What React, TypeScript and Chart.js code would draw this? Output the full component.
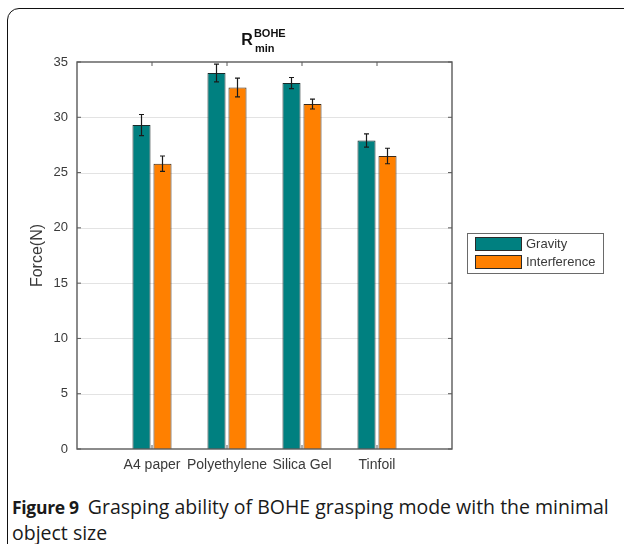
import React, { useEffect, useRef } from "react";
import { Chart, registerables } from "chart.js";

Chart.register(...registerables);

const categories = ["A4 paper", "Polyethylene", "Silica Gel", "Tinfoil"];
const seriesNames = ["Gravity", "Interference"];
const gravity = [29.3, 34.0, 33.1, 27.9];
const interference = [25.8, 32.7, 31.2, 26.5];
const gravityErr = [0.95, 0.8, 0.5, 0.6];
const interferenceErr = [0.7, 0.85, 0.45, 0.7];
const yTicks = [0, 5, 10, 15, 20, 25, 30, 35];

const TEAL = "#008080";
const ORANGE = "#FF8000";
const FONT = "'Liberation Sans', Arial, sans-serif";
const TXT = "#3a3a3a";

export default function App() {
  const ref = useRef<HTMLCanvasElement>(null);

  useEffect(() => {
    const canvas = ref.current;
    if (!canvas) return;
    const labels = ["", ...categories, ""];
    const pad = (a: number[]) => [null, ...a, null];
    const errs = [gravityErr, interferenceErr];

    const framePlugin = {
      id: "framePlugin",
      beforeDatasetsDraw(chart: any) {
        const { ctx, chartArea: a } = chart;
        const ys = chart.scales.y;
        ctx.save();
        ctx.strokeStyle = "#e3e3e3";
        ctx.lineWidth = 1;
        yTicks.forEach((t) => {
          if (t === 0 || t === 35) return;
          const py = Math.round(ys.getPixelForValue(t)) + 0.5;
          ctx.beginPath();
          ctx.moveTo(a.left, py);
          ctx.lineTo(a.right, py);
          ctx.stroke();
        });
        ctx.restore();
      },
      afterDatasetsDraw(chart: any) {
        const { ctx, chartArea: a } = chart;
        const ys = chart.scales.y;
        const xs = chart.scales.x;
        ctx.save();
        ctx.strokeStyle = "#1a1a1a";
        ctx.lineWidth = 1.2;
        chart.data.datasets.forEach((ds: any, di: number) => {
          const meta = chart.getDatasetMeta(di);
          meta.data.forEach((el: any, i: number) => {
            const v = ds.data[i];
            if (v == null) return;
            const e = errs[di][i - 1];
            const top = ys.getPixelForValue(v + e);
            const bot = ys.getPixelForValue(v - e);
            const x = el.x;
            ctx.beginPath();
            ctx.moveTo(x, top);
            ctx.lineTo(x, bot);
            ctx.moveTo(x - 2.5, top);
            ctx.lineTo(x + 2.5, top);
            ctx.moveTo(x - 2.5, bot);
            ctx.lineTo(x + 2.5, bot);
            ctx.stroke();
          });
        });
        ctx.restore();
        ctx.save();
        ctx.strokeStyle = "#5a5a5a";
        ctx.lineWidth = 1.4;
        ctx.strokeRect(a.left, a.top, a.right - a.left, a.bottom - a.top);
        ctx.lineWidth = 1;
        ctx.beginPath();
        categories.forEach((_, i) => {
          const px = xs.getPixelForValue(i + 1);
          ctx.moveTo(px, a.top);
          ctx.lineTo(px, a.top + 4);
          ctx.moveTo(px, a.bottom);
          ctx.lineTo(px, a.bottom - 4);
        });
        yTicks.forEach((t) => {
          const py = ys.getPixelForValue(t);
          ctx.moveTo(a.left, py);
          ctx.lineTo(a.left + 4, py);
          ctx.moveTo(a.right, py);
          ctx.lineTo(a.right - 4, py);
        });
        ctx.stroke();
        ctx.restore();
      },
      afterDraw(chart: any) {
        const { ctx, chartArea: a } = chart;
        ctx.save();
        ctx.fillStyle = "#111";
        ctx.textBaseline = "alphabetic";
        ctx.font = `bold 16px ${FONT}`;
        const rW = ctx.measureText("R").width;
        ctx.font = `bold 11px ${FONT}`;
        const supW = ctx.measureText("BOHE").width;
        const subW = ctx.measureText("min").width;
        const total = rW + 1 + Math.max(supW, subW);
        const cx = (a.left + a.right) / 2;
        const left = cx - total / 2 - 1;
        ctx.font = `bold 16px ${FONT}`;
        ctx.fillText("R", left, 45);
        ctx.font = `bold 11px ${FONT}`;
        ctx.fillText("BOHE", left + rW + 1, 37);
        ctx.fillText("min", left + rW + 2, 52);
        ctx.restore();
        ctx.save();
        const lx = 467, ly = 233, lw = 136, lh = 40;
        ctx.fillStyle = "#fff";
        ctx.fillRect(lx, ly, lw, lh);
        ctx.strokeStyle = "#6a6a6a";
        ctx.lineWidth = 1;
        ctx.strokeRect(lx + 0.5, ly + 0.5, lw, lh);
        chart.data.datasets.forEach((ds: any, di: number) => {
          const sy = ly + 4 + di * 18;
          ctx.fillStyle = ds.backgroundColor;
          ctx.fillRect(475, sy, 46, 14);
          ctx.strokeStyle = "#2a2a2a";
          ctx.strokeRect(475.5, sy + 0.5, 46, 13);
          ctx.fillStyle = TXT;
          ctx.font = `13px ${FONT}`;
          ctx.textBaseline = "middle";
          ctx.fillText(ds.label, 526, sy + 7.5);
        });
        ctx.restore();
      },
    };

    const chart = new Chart(canvas, {
      type: "bar",
      data: {
        labels,
        datasets: [
          {
            label: seriesNames[0],
            data: pad(gravity) as any,
            backgroundColor: TEAL,
            borderColor: "#1a2a2a",
            borderWidth: 1,
            categoryPercentage: 0.56,
            barPercentage: 0.86,
          },
          {
            label: seriesNames[1],
            data: pad(interference) as any,
            backgroundColor: ORANGE,
            borderColor: "#3a2a1a",
            borderWidth: 1,
            categoryPercentage: 0.56,
            barPercentage: 0.86,
          },
        ],
      },
      options: {
        responsive: false,
        animation: false,
        devicePixelRatio: 1,
        layout: { padding: { left: 0, top: 62, right: 172, bottom: 0 } },
        plugins: {
          legend: { display: false },
          title: { display: false },
          tooltip: { enabled: false },
        },
        scales: {
          x: {
            offset: false,
            grid: { display: false, drawTicks: false },
            border: { display: false },
            ticks: {
              autoSkip: false,
              maxRotation: 0,
              padding: 8,
              color: TXT,
              font: { family: FONT, size: 14 },
            },
            afterFit: (s: any) => {
              s.height = 31;
            },
          },
          y: {
            min: 0,
            max: 35,
            grid: { display: false, drawTicks: false },
            border: { display: false },
            ticks: {
              stepSize: 5,
              padding: 9,
              color: TXT,
              font: { family: FONT, size: 13 },
            },
            title: {
              display: true,
              text: "Force(N)",
              color: TXT,
              font: { family: FONT, size: 16 },
              padding: { top: 28, bottom: 0 },
            },
            afterFit: (s: any) => {
              s.width = 77;
            },
          },
        },
      },
      plugins: [framePlugin],
    });
    return () => chart.destroy();
  }, []);

  return (
    <div style={{ position: "absolute", left: 0, top: 0, width: 624, height: 544, overflow: "hidden", background: "#fff" }}>
      <div
        style={{
          position: "absolute",
          left: 7,
          top: 8,
          width: 700,
          height: 700,
          border: "1.5px solid #111",
          borderRadius: 12,
          boxSizing: "border-box",
        }}
      />
      <canvas ref={ref} width={624} height={480} style={{ position: "absolute", left: 0, top: 0 }} />
      <div
        style={{
          position: "absolute",
          left: 12,
          top: 494,
          width: 610,
          fontFamily: "'Open Sans', sans-serif",
          fontSize: 19.5,
          lineHeight: "25px",
          color: "#1a1a1a",
          whiteSpace: "nowrap",
        }}
      >
        <b style={{ fontSize: 17.5, letterSpacing: -0.3 }}>Figure 9</b>
        <span style={{ marginLeft: 9 }}>Grasping ability of BOHE grasping mode with the minimal</span>
        <br />
        object size
      </div>
    </div>
  );
}
